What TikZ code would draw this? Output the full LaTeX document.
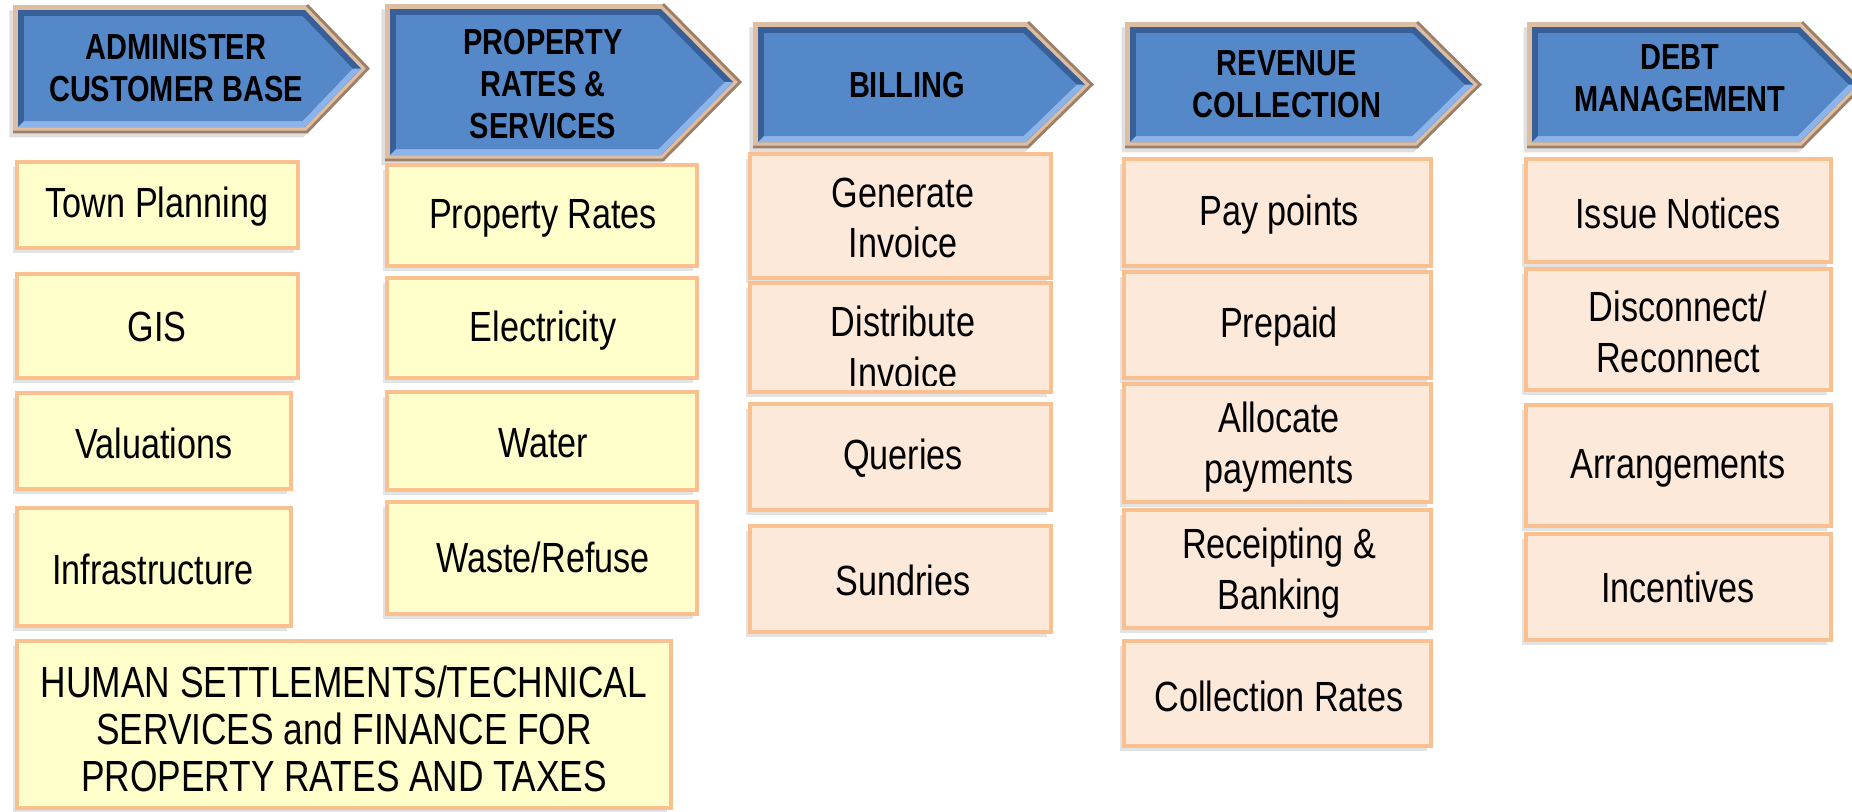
\documentclass[tikz,border=0pt]{standalone}
\usepackage{fontspec}
\setmainfont{Liberation Sans}
\newfontfamily\stagefont[FakeStretch=0.80]{Liberation Sans}
\newfontfamily\taskfont[FakeStretch=0.81]{Liberation Sans}
\usetikzlibrary{shadows}
\definecolor{stageblue}{RGB}{85,136,200}
\definecolor{bevdark}{RGB}{55,96,152}
\definecolor{bevlight}{RGB}{140,180,232}
\definecolor{rimtan}{RGB}{222,190,162}
\definecolor{rimbrown}{RGB}{158,128,104}
\definecolor{taskyellow}{RGB}{255,255,204}
\definecolor{taskpeach}{RGB}{253,233,217}
\definecolor{taskrim}{RGB}{250,192,143}

% bevelled chevron: left, top, bottom, corner x, tip x
\newcommand{\stagearrow}[5]{%
  \pgfmathsetmacro{\ym}{(#2+#3)/2}
  \fill [rimtan,drop shadow={shadow xshift=-1pt,shadow yshift=-1.5pt,opacity=0.25}]
    (#1,#2) -- (#4,#2) -- (#5,\ym) -- (#4,#3) -- (#1,#3) -- cycle;
  \draw [rimbrown,line width=0.8pt] (#4,#2) -- (#5,\ym) -- (#4,#3) -- ({#1},#3);
  \fill [bevdark] ({#1+5},{#2+5}) -- ({#4-2.1},{#2+5}) -- ({#5-7},\ym)
    -- ({#4-2.1},{#3-5}) -- ({#1+5},{#3-5}) -- cycle;
  \fill [bevlight] ({#1+5},{#3-5}) -- ({#4-2.1},{#3-5}) -- ({#5-7},\ym)
    -- ({#5-15.4},\ym) -- ({#4-4.6},{#3-11}) -- ({#1+11},{#3-11}) -- cycle;
  \fill [stageblue] ({#1+11},{#2+11}) -- ({#4-4.6},{#2+11}) -- ({#5-15.4},\ym)
    -- ({#4-4.6},{#3-11}) -- ({#1+11},{#3-11}) -- cycle;
}

\begin{document}
\begin{tikzpicture}[x=0.01cm,y=-0.01cm,
  stagetext/.style={font=\stagefont\bfseries\fontsize{10.3}{11.9}\selectfont,align=center,inner sep=0pt},
  tasktext/.style={font=\taskfont\fontsize{12}{14.4}\selectfont,align=center,inner sep=0pt},
  yellowtask/.style={fill=taskyellow,draw=taskrim,line width=1.4pt,
    drop shadow={shadow xshift=-1.2pt,shadow yshift=-1.5pt,opacity=0.22}},
  peachtask/.style={yellowtask,fill=taskpeach}]

\useasboundingbox [fill=white] (0,0) rectangle (1852,811);

%% stage arrows
\stagearrow{13}{5}{132}{307}{368}
\node [stagetext] (admin) at (176,68) {ADMINISTER\\CUSTOMER BASE};
\stagearrow{385}{4}{160}{663}{740}
\node [stagetext] (proprates) at (543,84) {PROPERTY\\RATES \&\\SERVICES};
\stagearrow{753}{22}{147}{1028}{1092}
\node [stagetext] (billing) at (907,85) {BILLING};
\stagearrow{1125}{22}{147}{1417}{1480}
\node [stagetext] (revenue) at (1287,84) {REVENUE\\COLLECTION};
\stagearrow{1527}{22}{147}{1802}{1864}
\node [stagetext] (debt) at (1680,78) {DEBT\\MANAGEMENT};

%% customer base
\path [yellowtask] (17,162) rectangle (298,248);
\node [tasktext] (townplan) at (157,207) {Town Planning};
\path [yellowtask] (17,274) rectangle (298,378);
\node [tasktext] (gis) at (157,327) {GIS};
\path [yellowtask] (17,393) rectangle (291,489);
\node [tasktext] (valuations) at (154,443) {Valuations};
\path [yellowtask] (17,508) rectangle (291,626);
\node [tasktext] (infra) at (153,569) {Infrastructure};
\path [yellowtask] (17,641) rectangle (671,808);
\node [tasktext,font=\taskfont\fontsize{12.4}{13.4}\selectfont] (humanset) at (344,729)
  {HUMAN SETTLEMENTS/TECHNICAL\\SERVICES and FINANCE FOR\\PROPERTY RATES AND TAXES};

%% rates and services
\path [yellowtask] (387,165) rectangle (697,266);
\node [tasktext] (propertyrates) at (543,218) {Property Rates};
\path [yellowtask] (387,278) rectangle (697,378);
\node [tasktext] (electricity) at (543,331) {Electricity};
\path [yellowtask] (387,392) rectangle (697,490);
\node [tasktext] (water) at (543,443) {Water};
\path [yellowtask] (387,502) rectangle (697,614);
\node [tasktext] (waste) at (543,557) {Waste/Refuse};

%% billing
\path [peachtask] (750,154) rectangle (1051,278);
\node [tasktext] (geninvoice) at (903,218) {Generate\\Invoice};
\path [peachtask] (750,283) rectangle (1051,392);
\begin{scope}
  \clip (750,283) rectangle (1051,385);
  \node [tasktext] (distinvoice) at (903,347) {Distribute\\Invoice};
\end{scope}
\path [peachtask] (750,404) rectangle (1051,510);
\node [tasktext] (queries) at (903,458) {Queries};
\path [peachtask] (750,526) rectangle (1051,632);
\node [tasktext] (sundries) at (903,580) {Sundries};

%% revenue collection
\path [peachtask] (1124,159) rectangle (1431,266);
\node [tasktext] (paypoints) at (1279,215) {Pay points};
\path [peachtask] (1124,272) rectangle (1431,378);
\node [tasktext] (prepaid) at (1279,327) {Prepaid};
\path [peachtask] (1124,384) rectangle (1431,502);
\node [tasktext] (allocate) at (1279,447) {Allocate\\payments};
\path [peachtask] (1124,510) rectangle (1431,628);
\begin{scope}
  \clip (1124,510) rectangle (1431,617);
  \node [tasktext] (receipting) at (1279,573) {Receipting \&\\Banking};
\end{scope}
\path [peachtask] (1124,641) rectangle (1431,746);
\node [tasktext] (collrates) at (1279,696) {Collection Rates};

%% debt management
\path [peachtask] (1526,159) rectangle (1831,262);
\node [tasktext] (notices) at (1678,213) {Issue Notices};
\path [peachtask] (1526,269) rectangle (1831,390);
\node [tasktext] (disconnect) at (1678,332) {Disconnect/\\Reconnect};
\path [peachtask] (1526,405) rectangle (1831,526);
\node [tasktext] (arrangements) at (1678,468) {Arrangements};
\path [peachtask] (1526,534) rectangle (1831,640);
\node [tasktext] (incentives) at (1678,587) {Incentives};

\end{tikzpicture}
\end{document}
